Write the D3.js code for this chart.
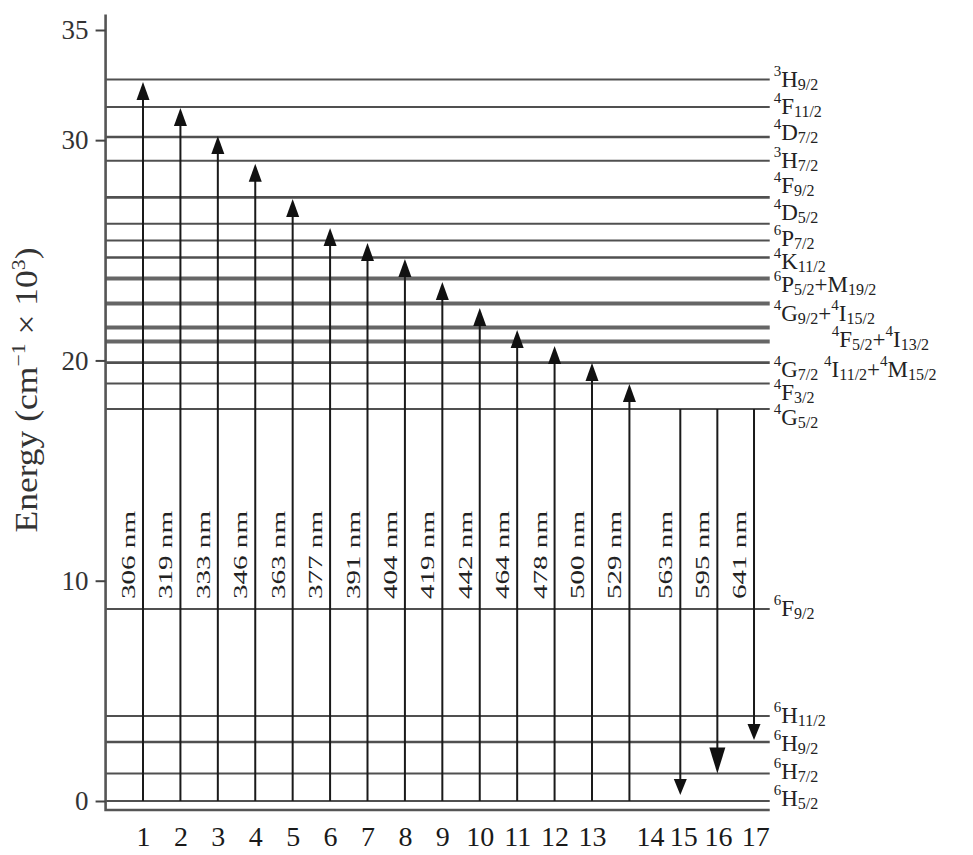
<!DOCTYPE html>
<html>
<head>
<meta charset="utf-8">
<script src="https://cdn.jsdelivr.net/npm/d3@7.9.0/dist/d3.min.js"></script>
<style>
  html, body { margin: 0; background: #fff; }
  svg { display: block; font-family: "Liberation Serif", "Times New Roman", serif; }
</style>
</head>
<body>
<svg id="chart" width="973" height="855"></svg>
<script>
// energy levels (x 10^3 cm-1); "^" = superscript, "_" = subscript, "|" splits pieces
const levelNames = [
  "^3|H|_9/2", "^4|F|_11/2", "^4|D|_7/2", "^3|H|_7/2", "^4|F|_9/2", "^4|D|_5/2",
  "^6|P|_7/2", "^4|K|_11/2", "^6|P|_5/2|+|M|_19/2", "^4|G|_9/2|+|^4|I|_15/2",
  "", "^4|F|_5/2|+|^4|I|_13/2", "^4|G|_7/2| |^4|I|_11/2|+|^4|M|_15/2",
  "^4|F|_3/2", "^4|G|_5/2", "^6|F|_9/2", "^6|H|_11/2", "^6|H|_9/2", "^6|H|_7/2", "^6|H|_5/2"
];
const levelEnergy = [
  32.75, 31.5, 30.14, 29.07, 27.4, 26.21, 25.44, 24.67, 23.72, 22.58,
  21.49, 20.86, 19.9, 18.95, 17.79, 8.72, 3.86, 2.68, 1.25, 0
];

// transitions: wavelength, start and end energy, column position
const wavelengths = [306, 319, 333, 346, 363, 377, 391, 404, 419, 442, 464, 478, 500, 529, 563, 595, 641];
const transFrom = [0, 0, 0, 0, 0, 0, 0, 0, 0, 0, 0, 0, 0, 0, 17.79, 17.79, 17.79];
const transTo = [32.64, 31.46, 30.19, 28.93, 27.33, 26.01, 25.33, 24.6, 23.56, 22.38, 21.38, 20.65, 19.88, 18.93, 0.27, 1.25, 2.77];
const colPos = [1, 2, 3, 4, 5, 6, 7, 8, 9, 10, 11, 12, 13, 14, 15.36, 16.35, 17.33];

const tickPos = [1, 2, 3, 4, 5, 6, 7, 8, 9, 10, 11, 12, 13, 14.55, 15.44, 16.37, 17.36];
const tickNames = ["1", "2", "3", "4", "5", "6", "7", "8", "9", "10", "11", "12", "13", "14", "15", "16", "17"];
const yTicks = [0, 10, 20, 30, 35];

const svg = d3.select("#chart");
const x = d3.scaleLinear().domain([1, 13]).range([143, 592]);
const y = d3.scaleLinear().domain([0, 35]).range([801, 30]);
const xLeft = x(0);
const xRight = x(17.75);
const yBottom = 810;

// label nudges so crowded labels don't collide
const labelDy = [0, 0, -4, 0, -11, -11, -2, 4, 7, 10, 0, -1, 7, 9, 9, 0, 0, 2, -1, -2];
const labelDx = { 11: 58 };
const thick = new Set([23.72, 22.58, 21.49, 20.86]);
const medium = new Set([30.14, 27.4, 24.67, 19.9, 2.68]);

// levels
svg.append("g")
  .selectAll("line")
  .data(levelEnergy)
  .join("line")
  .attr("x1", xLeft)
  .attr("x2", xRight)
  .attr("y1", (d) => y(d))
  .attr("y2", (d) => y(d))
  .attr("stroke", (d) => (thick.has(d) ? "#666" : "#505050"))
  .attr("stroke-width", (d) => (thick.has(d) ? 4 : medium.has(d) ? 2.6 : 2));

// frame
svg.append("path")
  .attr("d", `M${xLeft},${y(35.7)}V${yBottom}H${xRight}`)
  .attr("fill", "none")
  .attr("stroke", "#555")
  .attr("stroke-width", 2.6);

// y axis
svg.append("g")
  .attr("transform", `translate(${xLeft},0)`)
  .call(d3.axisLeft(y).tickValues(yTicks).tickSize(10).tickPadding(7))
  .call((g) => g.select(".domain").remove())
  .call((g) => g.selectAll("line").attr("stroke", "#444").attr("stroke-width", 2))
  .call((g) => g.selectAll("text")
    .attr("font-family", "Liberation Serif, serif")
    .attr("font-size", 27)
    .attr("fill", "#333"));

// x axis
svg.append("g")
  .attr("transform", `translate(0,${yBottom})`)
  .call(d3.axisBottom(x).tickValues(tickPos).tickSize(0).tickPadding(16)
    .tickFormat((d) => tickNames[tickPos.indexOf(d)]))
  .call((g) => g.select(".domain").remove())
  .call((g) => g.selectAll("text")
    .attr("font-family", "Liberation Serif, serif")
    .attr("font-size", 28)
    .attr("fill", "#1a1a1a"));

// y title
const title = svg.append("text")
  .attr("transform", `translate(37,390) rotate(-90)`)
  .attr("text-anchor", "middle")
  .attr("font-size", 31)
  .attr("fill", "#333")
  .attr("textLength", 285)
  .attr("lengthAdjust", "spacingAndGlyphs");
title.append("tspan").text("Energy (cm");
title.append("tspan").attr("font-size", 19).attr("dy", -12).text("−1");
title.append("tspan").attr("dy", 12).text(" × 10");
title.append("tspan").attr("font-size", 19).attr("dy", -12).text("3");
title.append("tspan").attr("dy", 12).text(")");

// transitions
const trans = wavelengths.map((w, i) => ({
  w, i, from: transFrom[i], to: transTo[i], pos: colPos[i]
}));

const tg = svg.append("g");
trans.forEach((t) => {
  const cx = x(t.pos);
  const y0 = y(t.from);
  const y1 = y(t.to);
  const dir = y1 < y0 ? 1 : -1; // 1 = upward arrow
  const big = t.i === 15;
  const L = big ? 26 : t.i > 13 ? 16 : 18;
  const W = big ? 8 : 6.5;
  const base = y1 + dir * L;

  tg.append("line")
    .attr("x1", cx).attr("x2", cx)
    .attr("y1", y0).attr("y2", base + dir * -2)
    .attr("stroke", "#1a1a1a")
    .attr("stroke-width", 2);

  tg.append("path")
    .attr("d", `M${cx},${y1}L${cx - W},${base}L${cx + W},${base}Z`)
    .attr("fill", "#111");

  tg.append("text")
    .attr("transform", `translate(${cx - 8},555) rotate(-90)`)
    .attr("text-anchor", "middle")
    .attr("font-size", 18)
    .attr("fill", "#222")
    .attr("textLength", 88)
    .attr("lengthAdjust", "spacingAndGlyphs")
    .text(`${t.w} nm`);
});

// level labels
const lg = svg.append("g");
levelNames.forEach((name, i) => {
  if (!name) return;
  const text = lg.append("text")
    .attr("x", xRight + 4 + (labelDx[i] || 0))
    .attr("y", y(levelEnergy[i]) + labelDy[i] + 7)
    .attr("fill", "#222");
  let shift = 0;
  name.split("|").forEach((piece) => {
    let want = 0;
    let size = 23;
    let str = piece;
    if (piece[0] === "^") { want = -11; size = 15; str = piece.slice(1); }
    else if (piece[0] === "_") { want = 3; size = 16; str = piece.slice(1); }
    text.append("tspan")
      .attr("dy", want - shift)
      .attr("font-size", size)
      .text(str);
    shift = want;
  });
});
</script>
</body>
</html>
